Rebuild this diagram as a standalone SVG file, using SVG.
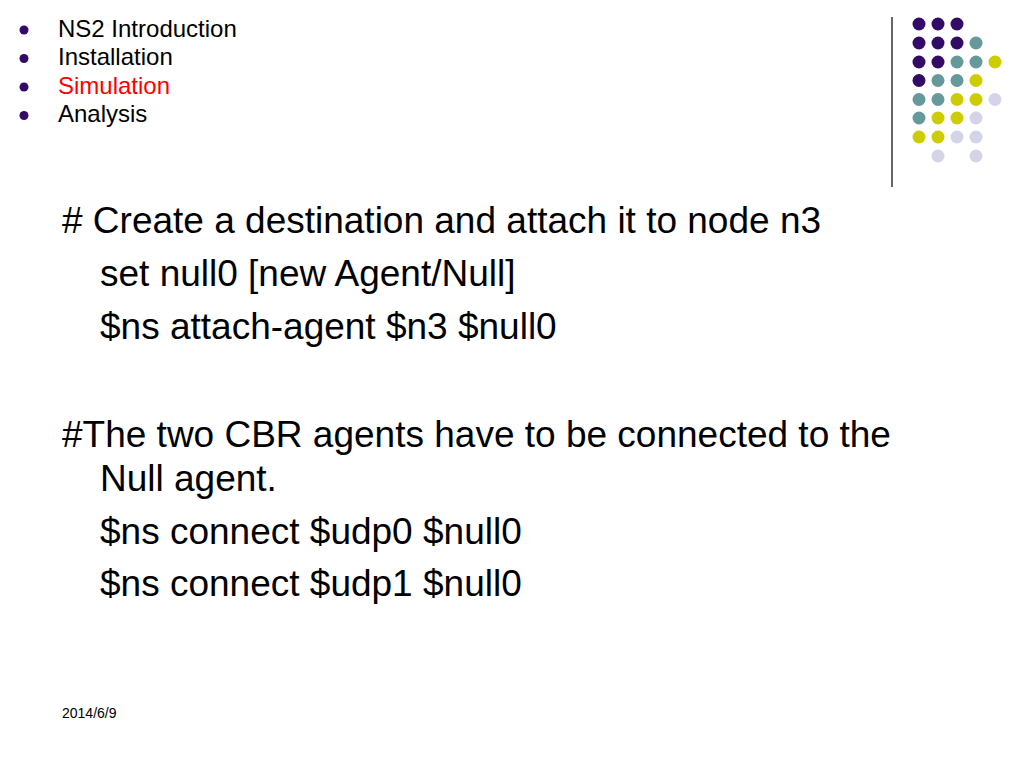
<svg xmlns="http://www.w3.org/2000/svg" width="1024" height="768" viewBox="0 0 1024 768">
<style>
text{font-family:"Liberation Sans",Arial,sans-serif;fill:#000}
.nav{font-size:24px}
.main{font-size:37px}
.p{fill:#330a66}.t{fill:#669999}.y{fill:#cccc00}.l{fill:#d4d4e8}
</style>
<rect width="1024" height="768" fill="#fff"/>
<g id="nav">
<circle cx="24" cy="30" r="4.5" class="p"/>
<circle cx="24" cy="58.5" r="4.5" class="p"/>
<circle cx="24" cy="87" r="4.5" class="p"/>
<circle cx="24" cy="115.5" r="4.5" class="p"/>
<text class="nav" x="58" y="36.5">NS2 Introduction</text>
<text class="nav" x="58" y="65">Installation</text>
<text class="nav" x="58" y="93.5" style="fill:#ff0000">Simulation</text>
<text class="nav" x="58" y="122">Analysis</text>
</g>
<g id="decor">
<line x1="892" y1="17" x2="892" y2="187" stroke="#333" stroke-width="1.5"/>
<g>
<circle cx="919" cy="24" r="6.5" class="p"/><circle cx="938" cy="24" r="6.5" class="p"/><circle cx="957" cy="24" r="6.5" class="p"/>
<circle cx="919" cy="43" r="6.5" class="p"/><circle cx="938" cy="43" r="6.5" class="p"/><circle cx="957" cy="43" r="6.5" class="p"/><circle cx="976" cy="43" r="6.5" class="t"/>
<circle cx="919" cy="62" r="6.5" class="p"/><circle cx="938" cy="62" r="6.5" class="p"/><circle cx="957" cy="62" r="6.5" class="t"/><circle cx="976" cy="62" r="6.5" class="t"/><circle cx="995" cy="62" r="6.5" class="y"/>
<circle cx="919" cy="80.5" r="6.5" class="p"/><circle cx="938" cy="80.5" r="6.5" class="t"/><circle cx="957" cy="80.5" r="6.5" class="t"/><circle cx="976" cy="80.5" r="6.5" class="y"/>
<circle cx="919" cy="99.5" r="6.5" class="t"/><circle cx="938" cy="99.5" r="6.5" class="t"/><circle cx="957" cy="99.5" r="6.5" class="y"/><circle cx="976" cy="99.5" r="6.5" class="y"/><circle cx="995" cy="99.5" r="6.5" class="l"/>
<circle cx="919" cy="118" r="6.5" class="t"/><circle cx="938" cy="118" r="6.5" class="y"/><circle cx="957" cy="118" r="6.5" class="y"/><circle cx="976" cy="118" r="6.5" class="l"/>
<circle cx="919" cy="137" r="6.5" class="y"/><circle cx="938" cy="137" r="6.5" class="y"/><circle cx="957" cy="137" r="6.5" class="l"/><circle cx="976" cy="137" r="6.5" class="l"/>
<circle cx="938" cy="156" r="6.5" class="l"/><circle cx="976" cy="156" r="6.5" class="l"/>
</g>
</g>
<g id="body">
<text class="main" x="62" y="233"># Create a destination and attach it to node n3</text>
<text class="main" x="100" y="286">set null0 [new Agent/Null]</text>
<text class="main" x="100" y="339">$ns attach-agent $n3 $null0</text>
<text class="main" x="62" y="447">#The two CBR agents have to be connected to the</text>
<text class="main" x="100" y="491">Null agent.</text>
<text class="main" x="100" y="544">$ns connect $udp0 $null0</text>
<text class="main" x="100" y="596">$ns connect $udp1 $null0</text>
</g>
<text x="62" y="718" style="font-size:14px">2014/6/9</text>
</svg>
